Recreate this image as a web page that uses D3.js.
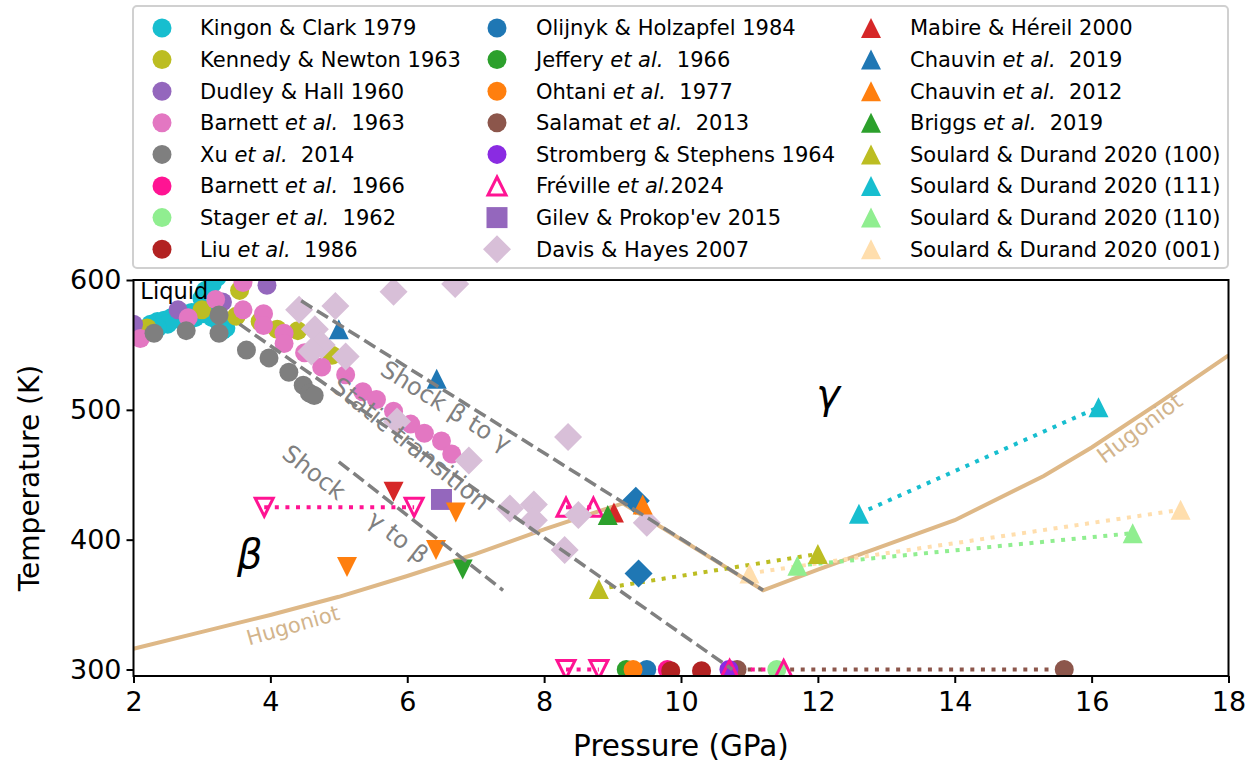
<!DOCTYPE html>
<html>
<head>
<meta charset="utf-8">
<script src="https://cdn.jsdelivr.net/npm/d3@7"></script>
<style>
body { margin: 0; background: #fff; }
text { font-family: "DejaVu Sans", sans-serif; }
</style>
</head>
<body>
<svg id="chart" width="1255" height="763"></svg>
<script>
// ---------- data: [pressure (GPa), temperature (K), optional marker] ----------
const kingonClark1979 = [[2.25,566],[2.35,568],[2.45,569],[2.55,571],[2.65,573],[2.75,574],[2.85,575],[2.95,576],
	[3.05,574],[3.15,571],[3.25,567],[3.35,563],[3.3,561],[2.9,571],[2.7,569],[2.5,566],[2.35,563],
	[3.0,586],[3.05,592],[3.15,597],[3.22,602]];
const kennedyNewton1963 = [[2.2,563],[3.0,577],[3.55,592],[3.5,572],[3.85,568],[4.1,562],[4.4,561],[4.9,542]];
const dudleyHall1960 = [[2.0,566],[2.65,577],[3.3,583],[3.95,596]];
const barnett1963 = [[2.1,555],[2.8,571],[3.2,585],[3.6,598],[3.6,577],[3.9,574],[3.9,565],[4.2,559],[4.2,551],
	[4.5,544],[4.75,533],[5.1,527],[5.35,514],[5.55,508],[5.8,499],[6.05,489],[6.25,482],[6.5,476],[6.65,466]];
const xu2014 = [[2.3,559],[2.77,561],[3.25,559],[3.25,573],[3.65,546],[3.98,540],[4.27,529],[4.48,519],[4.57,513],[4.64,511]];
const barnett1966 = [[9.8,300]];
const stager1962 = [[11.4,300]];
const liu1986 = [[9.85,299],[10.3,299]];
const olijnykHolzapfel1984 = [[9.5,300]];
const jeffery1966 = [[9.2,300]];
const ohtani1977 = [[9.3,300]];
const salamat2013 = [[10.82,300],[15.6,300]];
const strombergStephens1964 = [[10.7,300]];
const freville2024 = [[8.32,425],[8.72,425],[10.71,300],[11.5,300],
	[3.91,425,'vh'],[6.1,425,'vh'],[8.32,300,'vh'],[8.8,300,'vh']];
const gilevProkopev2015 = [[6.5,431]];
const davisHayes2007 = [[4.42,577],[4.95,580],[4.65,562],[4.75,550],[4.6,545],[5.1,541],[5.8,591],[6.7,597],
	[5.85,491],[6.9,461],[8.35,479],[7.5,424],[7.85,427],[7.85,415],[8.3,392],[8.5,419],[9.5,413]];
const mabireHereil2000 = [[9.02,421],[5.8,437,'v']];
const chauvin2019 = [[5.0,562],[6.43,524],[9.34,430,'D'],[9.38,374,'D']];
const chauvin2012 = [[9.44,427],[6.71,421,'v'],[6.42,392,'v'],[5.12,379,'v']];
const briggs2019 = [[8.93,419],[6.81,377,'v']];
const soulard100 = [[8.8,362],[12.0,389]];
const soulard111 = [[12.6,420],[16.1,502]];
const soulard110 = [[11.7,380],[16.6,405]];
const soulard001 = [[11.0,374],[17.3,423]];

const hugoniot = [[2,316],[3,329],[4,342],[5,356],[6,372],[7,389],[8,408],[9.15,428],[11.2,361],
	[12,377],[13,396],[14,415],[15.3,449],[16,471],[17,506],[18,542]];
const shockBetaGamma = [[4.45,584],[11.2,361]];
const staticTransition = [[3.55,566],[10.75,300]];
const shockGammaBeta = [[5.0,460],[7.4,361]];

const xTicks = [2,4,6,8,10,12,14,16,18];
const yTicks = [300,400,500,600];

// series in plotting / legend order
const series = [
	{name: 'Kingon & Clark 1979', color: '#17becf', marker: 'o', pts: kingonClark1979},
	{name: 'Kennedy & Newton 1963', color: '#bcbd22', marker: 'o', pts: kennedyNewton1963},
	{name: 'Dudley & Hall 1960', color: '#9467bd', marker: 'o', pts: dudleyHall1960},
	{name: 'Barnett et al. 1963', color: '#e377c2', marker: 'o', pts: barnett1963},
	{name: 'Xu et al. 2014', color: '#7f7f7f', marker: 'o', pts: xu2014},
	{name: 'Barnett et al. 1966', color: '#ff1493', marker: 'o', pts: barnett1966},
	{name: 'Stager et al. 1962', color: '#90ee90', marker: 'o', pts: stager1962},
	{name: 'Liu et al. 1986', color: '#b22222', marker: 'o', pts: liu1986},
	{name: 'Olijnyk & Holzapfel 1984', color: '#1f77b4', marker: 'o', pts: olijnykHolzapfel1984},
	{name: 'Jeffery et al. 1966', color: '#2ca02c', marker: 'o', pts: jeffery1966},
	{name: 'Ohtani et al. 1977', color: '#ff7f0e', marker: 'o', pts: ohtani1977},
	{name: 'Salamat et al. 2013', color: '#8c564b', marker: 'o', pts: salamat2013, pairs: true},
	{name: 'Stromberg & Stephens 1964', color: '#8a2be2', marker: 'o', pts: strombergStephens1964},
	{name: 'Fréville et al.2024', color: '#ff1493', marker: '^h', pts: freville2024, pairs: true},
	{name: "Gilev & Prokop'ev 2015", color: '#9467bd', marker: 's', pts: gilevProkopev2015},
	{name: 'Davis & Hayes 2007', color: '#d8bfd8', marker: 'D', pts: davisHayes2007},
	{name: 'Mabire & Héreil 2000', color: '#d62728', marker: '^', pts: mabireHereil2000},
	{name: 'Chauvin et al. 2019', color: '#1f77b4', marker: '^', pts: chauvin2019},
	{name: 'Chauvin et al. 2012', color: '#ff7f0e', marker: '^', pts: chauvin2012},
	{name: 'Briggs et al. 2019', color: '#2ca02c', marker: '^', pts: briggs2019},
	{name: 'Soulard & Durand 2020 (100)', color: '#bcbd22', marker: '^', pts: soulard100, pairs: true},
	{name: 'Soulard & Durand 2020 (111)', color: '#17becf', marker: '^', pts: soulard111, pairs: true},
	{name: 'Soulard & Durand 2020 (110)', color: '#90ee90', marker: '^', pts: soulard110, pairs: true},
	{name: 'Soulard & Durand 2020 (001)', color: '#ffdead', marker: '^', pts: soulard001, pairs: true}
];

// ---------- setup ----------
const svg = d3.select('#chart');
const W = 1255, H = 763;
const plotLeft = 133.5, plotRight = 1228.5, plotTop = 280, plotBottom = 676;

const x = d3.scaleLinear().domain([2, 18]).range([plotLeft, plotRight]);
const y = d3.scaleLinear().domain([295, 600]).range([plotBottom, plotTop]);
const line = d3.line().x(d => x(d[0])).y(d => y(d[1]));

svg.append('rect').attr('width', W).attr('height', H).attr('fill', '#fff');

svg.append('defs').append('clipPath').attr('id', 'plotclip')
	.append('rect').attr('x', plotLeft).attr('y', plotTop)
	.attr('width', plotRight - plotLeft).attr('height', plotBottom - plotTop);

// marker shapes centred on 0,0
function shape(m) {
	const r = 9.5, t = 10, d = 14, s = 10.5, h = 9;
	switch (m) {
		case 'o': return `M${r},0A${r},${r} 0 1,1 ${-r},0A${r},${r} 0 1,1 ${r},0Z`;
		case '^': return `M0,${-t}L${t},${t}L${-t},${t}Z`;
		case 'v': return `M0,${t}L${t},${-t}L${-t},${-t}Z`;
		case '^h': return `M0,${-h}L${h},${h}L${-h},${h}Z`;
		case 'vh': return `M0,${h}L${h},${-h}L${-h},${-h}Z`;
		case 'D': return `M0,${-d}L${d},0L0,${d}L${-d},0Z`;
		case 's': return `M${-s},${-s}H${s}V${s}H${-s}Z`;
	}
}
const hollow = m => m.endsWith('h');

const plot = svg.append('g').attr('clip-path', 'url(#plotclip)');

// Hugoniot
plot.append('path').datum(hugoniot).attr('d', line)
	.attr('fill', 'none').attr('stroke', '#deb887').attr('stroke-width', 4);

// dotted links between paired points
series.filter(s => s.pairs).forEach(s => {
	for (let i = 0; i + 1 < s.pts.length; i += 2) {
		plot.append('path').datum([s.pts[i], s.pts[i + 1]]).attr('d', line)
			.attr('fill', 'none').attr('stroke', s.color).attr('stroke-width', 4)
			.attr('stroke-dasharray', '4 6.6');
	}
});

// markers
series.forEach(s => {
	plot.append('g').selectAll('path').data(s.pts).join('path')
		.attr('transform', d => `translate(${x(d[0])},${y(d[1])})`)
		.attr('d', d => shape(d[2] || s.marker))
		.attr('fill', d => hollow(d[2] || s.marker) ? 'none' : s.color)
		.attr('stroke', d => hollow(d[2] || s.marker) ? s.color : 'none')
		.attr('stroke-width', 3);
});

// phase boundaries
[shockBetaGamma, staticTransition, shockGammaBeta].forEach(seg => {
	plot.append('path').datum(seg).attr('d', line)
		.attr('fill', 'none').attr('stroke', '#808080').attr('stroke-width', 3.5)
		.attr('stroke-dasharray', '13 5.6');
});

// annotations
const notes = [
	{text: 'Shock β to γ', p: 6.57, t: 503, rot: 32, color: '#808080', size: 24},
	{text: 'Static transition', p: 6.05, t: 474, rot: 39, color: '#808080', size: 24.5},
	{text: 'Shock', p: 4.64, t: 452, rot: 38, color: '#808080', size: 24},
	{text: 'γ to β', p: 5.87, t: 402, rot: 38, color: '#808080', size: 24},
	{text: 'Hugoniot', p: 4.33, t: 334, rot: -16, color: '#d2b48c', size: 21},
	{text: 'Hugoniot', p: 16.7, t: 486, rot: -37, color: '#d2b48c', size: 22},
	{text: 'β', p: 3.7, t: 389, rot: 0, color: '#000', size: 40, italic: true},
	{text: 'γ', p: 12.15, t: 512, rot: 0, color: '#000', size: 40, italic: true}
];
notes.forEach(n => {
	svg.append('text')
		.attr('transform', `translate(${x(n.p)},${y(n.t)}) rotate(${n.rot})`)
		.attr('text-anchor', 'middle').attr('dy', '0.35em')
		.attr('fill', n.color).attr('font-size', n.size)
		.attr('font-style', n.italic ? 'italic' : 'normal')
		.text(n.text);
});
svg.append('text').attr('x', x(2.1)).attr('y', y(585.5))
	.attr('font-size', 22.5).attr('fill', '#000').text('Liquid');

// axes
const xAxis = svg.append('g').attr('transform', `translate(0,${plotBottom})`)
	.call(d3.axisBottom(x).tickValues(xTicks).tickSize(7).tickPadding(9).tickFormat(d3.format('d')));
const yAxis = svg.append('g').attr('transform', `translate(${plotLeft},0)`)
	.call(d3.axisLeft(y).tickValues(yTicks).tickSize(7).tickPadding(5).tickFormat(d3.format('d')));
[xAxis, yAxis].forEach(a => {
	a.select('.domain').remove();
	a.selectAll('line').attr('stroke', '#000').attr('stroke-width', 2);
	a.selectAll('text').attr('font-size', 27).attr('fill', '#000')
		.attr('font-family', '"DejaVu Sans", sans-serif');
});
svg.append('rect').attr('x', plotLeft).attr('y', plotTop)
	.attr('width', plotRight - plotLeft).attr('height', plotBottom - plotTop)
	.attr('fill', 'none').attr('stroke', '#000').attr('stroke-width', 2);

svg.append('text').attr('x', (plotLeft + plotRight) / 2).attr('y', 756).attr('text-anchor', 'middle')
	.attr('font-size', 29.5).text('Pressure (GPa)');
svg.append('text').attr('transform', `translate(39,${(plotTop + plotBottom) / 2}) rotate(-90)`)
	.attr('text-anchor', 'middle').attr('font-size', 28).text('Temperature (K)');

// legend
const legend = svg.append('g');
legend.append('rect').attr('x', 133).attr('y', 6).attr('width', 1095).attr('height', 262)
	.attr('rx', 4).attr('fill', '#fff').attr('stroke', '#d0d0d0').attr('stroke-width', 2);
const cols = [{mx: 162, tx: 200}, {mx: 497, tx: 536}, {mx: 871, tx: 910}];
series.forEach((s, i) => {
	const c = cols[Math.floor(i / 8)], row = i % 8;
	const cy = 28 + row * 31.6;
	const m = s.marker;
	legend.append('path').attr('transform', `translate(${c.mx},${cy})`)
		.attr('d', shape(m))
		.attr('fill', hollow(m) ? 'none' : s.color)
		.attr('stroke', hollow(m) ? s.color : 'none').attr('stroke-width', 3);
	const t = legend.append('text').attr('x', c.tx).attr('y', cy).attr('dy', '0.35em')
		.attr('font-size', 21).attr('fill', '#000');
	const parts = s.name.split('et al.');
	if (parts.length === 2) {
		t.append('tspan').text(parts[0]);
		t.append('tspan').attr('font-style', 'italic').text('et al.');
		t.append('tspan').text(parts[1].startsWith(' ') ? '\u00a0' + parts[1] : parts[1]);
	} else {
		t.text(s.name);
	}
});
</script>
</body>
</html>
